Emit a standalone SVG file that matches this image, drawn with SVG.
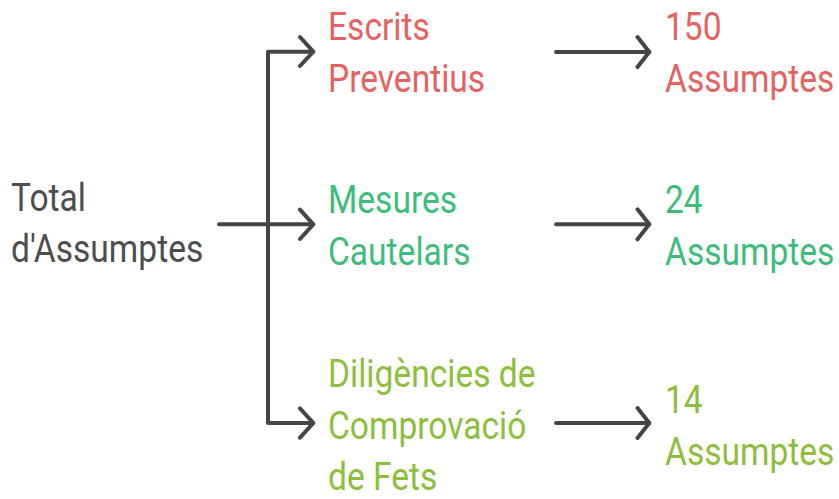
<svg xmlns="http://www.w3.org/2000/svg" width="839" height="499" viewBox="0 0 839 499">
<style>
text{font-family:Roboto,"Liberation Sans",sans-serif;font-size:39.4px}
.g{fill:#4d4d4d}.r{fill:#e5625f}.gr{fill:#3dbd7a}.l{fill:#8cbf3c}
.c{fill:none;stroke:#454545;stroke-width:4;stroke-linecap:round;stroke-linejoin:round}
</style>
<rect width="839" height="499" fill="#fff"/>
<g id="connectors" class="c">
<path d="M219 224.3H313M268 51.7V423M268 51.7H313M268 423H313"/>
<path d="M300 37L313.3 51.7L300 66M300 209.6L313.3 224.3L300 239M300 408.3L313.3 423L300 437.7"/>
<path d="M556 52H649.3M556 224.3H649.3M556 423H649.3"/>
<path d="M637.5 37L649.3 52L637.5 67M637.5 209.3L649.3 224.3L637.5 239.3M637.5 408L649.3 423L637.5 438"/>
</g>
<g id="total" class="g">
<text transform="translate(11,211) scale(0.852,1)">Total</text>
<text transform="translate(11,262.3) scale(0.852,1)">d'Assumptes</text>
</g>
<g id="escrits" class="r">
<text transform="translate(328,39.5) scale(0.852,1)">Escrits</text>
<text transform="translate(328,92) scale(0.852,1)">Preventius</text>
</g>
<g id="n150" class="r">
<text transform="translate(665,39.5) scale(0.852,1)">150</text>
<text transform="translate(665,92) scale(0.852,1)">Assumptes</text>
</g>
<g id="mesures" class="gr">
<text transform="translate(328,212.5) scale(0.852,1)">Mesures</text>
<text transform="translate(328,265) scale(0.852,1)">Cautelars</text>
</g>
<g id="n24" class="gr">
<text transform="translate(665,212.5) scale(0.852,1)">24</text>
<text transform="translate(665,265) scale(0.852,1)">Assumptes</text>
</g>
<g id="diligencies" class="l">
<text transform="translate(328,387) scale(0.852,1)">Diligències de</text>
<text transform="translate(328,438.5) scale(0.852,1)">Comprovació</text>
<text transform="translate(328,489.8) scale(0.852,1)">de Fets</text>
</g>
<g id="n14" class="l">
<text transform="translate(665,412.5) scale(0.852,1)">14</text>
<text transform="translate(665,465) scale(0.852,1)">Assumptes</text>
</g>
</svg>
